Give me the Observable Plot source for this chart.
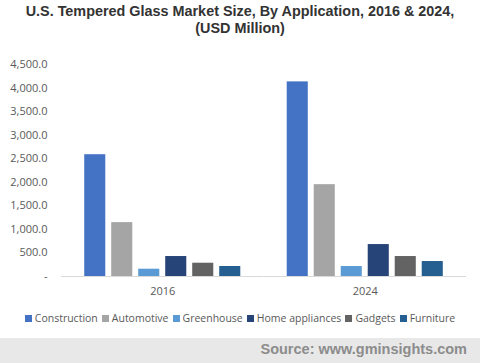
<!DOCTYPE html>
<html>
<head>
<meta charset="utf-8">
<script src="https://cdn.jsdelivr.net/npm/d3@7"></script>
<script src="https://cdn.jsdelivr.net/npm/@observablehq/plot@0.6"></script>
<style>
  html, body { margin: 0; padding: 0; background: #fff; }
  #wrap { position: relative; width: 480px; height: 363px; overflow: hidden; background: #fff; }
  #title { position: absolute; top: 3px; left: 0; width: 480px; text-align: center;
    font: bold 14.4px "Liberation Sans", Arial, sans-serif; color: #333; line-height: 17px; }
  #chart { position: absolute; top: 40px; left: 0; }
  #legend { position: absolute; top: 311px; left: 0; width: 480px; display: flex; justify-content: center;
    font: 10.5px "Open Sans", sans-serif; color: #595959; }
  #legend span.item { display: inline-flex; align-items: center; margin: 0 2px; }
  #legend span.sw { display: inline-block; width: 7px; height: 7px; margin-right: 3px; }
  #footer { position: absolute; left: 0; top: 338px; width: 480px; height: 25px; background: #e8e8e8; }
  #footer div { position: absolute; right: 13px; top: 3px; font: bold 14.5px "Liberation Sans", Arial, sans-serif; color: #8c8c8c; }
</style>
</head>
<body>
<div id="wrap">
  <div id="title">U.S. Tempered Glass Market Size, By Application, 2016 &amp; 2024,<br>(USD Million)</div>
  <div id="chart"></div>
  <div id="legend"></div>
  <div id="footer"><div>Source: www.gminsights.com</div></div>
</div>
<script>
const years = ["2016", "2024"];
const applications = ["Construction", "Automotive", "Greenhouse", "Home appliances", "Gadgets", "Furniture"];
const colors = ["#4472C4", "#A5A5A5", "#5B9BD5", "#264478", "#636363", "#255E91"];
const values2016 = [2585, 1144, 155, 424, 282, 212];
const values2024 = [4131, 1949, 212, 678, 424, 318];
const yTicks = [0, 500, 1000, 1500, 2000, 2500, 3000, 3500, 4000, 4500];

const data = [];
applications.forEach((a, i) => {
  data.push({year: years[0], app: a, value: values2016[i]});
  data.push({year: years[1], app: a, value: values2024[i]});
});

const fmt = d => d === 0 ? "-" : d3.format(",.1f")(d);

const plot = Plot.plot({
  width: 480,
  height: 265,
  marginLeft: 61,
  marginRight: 14,
  marginTop: 24,
  marginBottom: 29,
  style: {fontFamily: "'Open Sans', sans-serif", fontSize: "11px", color: "#595959", background: "transparent"},
  fx: {domain: years, padding: 0, round: false, label: null, axis: "bottom", tickSize: 0, tickPadding: 11},
  x: {domain: applications, paddingInner: 0.22, paddingOuter: 0.86, round: false, axis: null},
  y: {domain: [0, 4500], ticks: yTicks, tickFormat: fmt, tickSize: 0, tickPadding: 14, label: null, line: false},
  color: {domain: applications, range: colors},
  marks: [
    Plot.barY(data, {fx: "year", x: "app", y: "value", fill: "app"}),
    Plot.ruleY([0], {stroke: "#d9d9d9", strokeWidth: 1})
  ]
});
document.getElementById("chart").appendChild(plot);

const legend = document.getElementById("legend");
applications.forEach((a, i) => {
  const item = document.createElement("span");
  item.className = "item";
  const sw = document.createElement("span");
  sw.className = "sw";
  sw.style.background = colors[i];
  item.appendChild(sw);
  item.appendChild(document.createTextNode(a));
  legend.appendChild(item);
});
</script>
</body>
</html>
